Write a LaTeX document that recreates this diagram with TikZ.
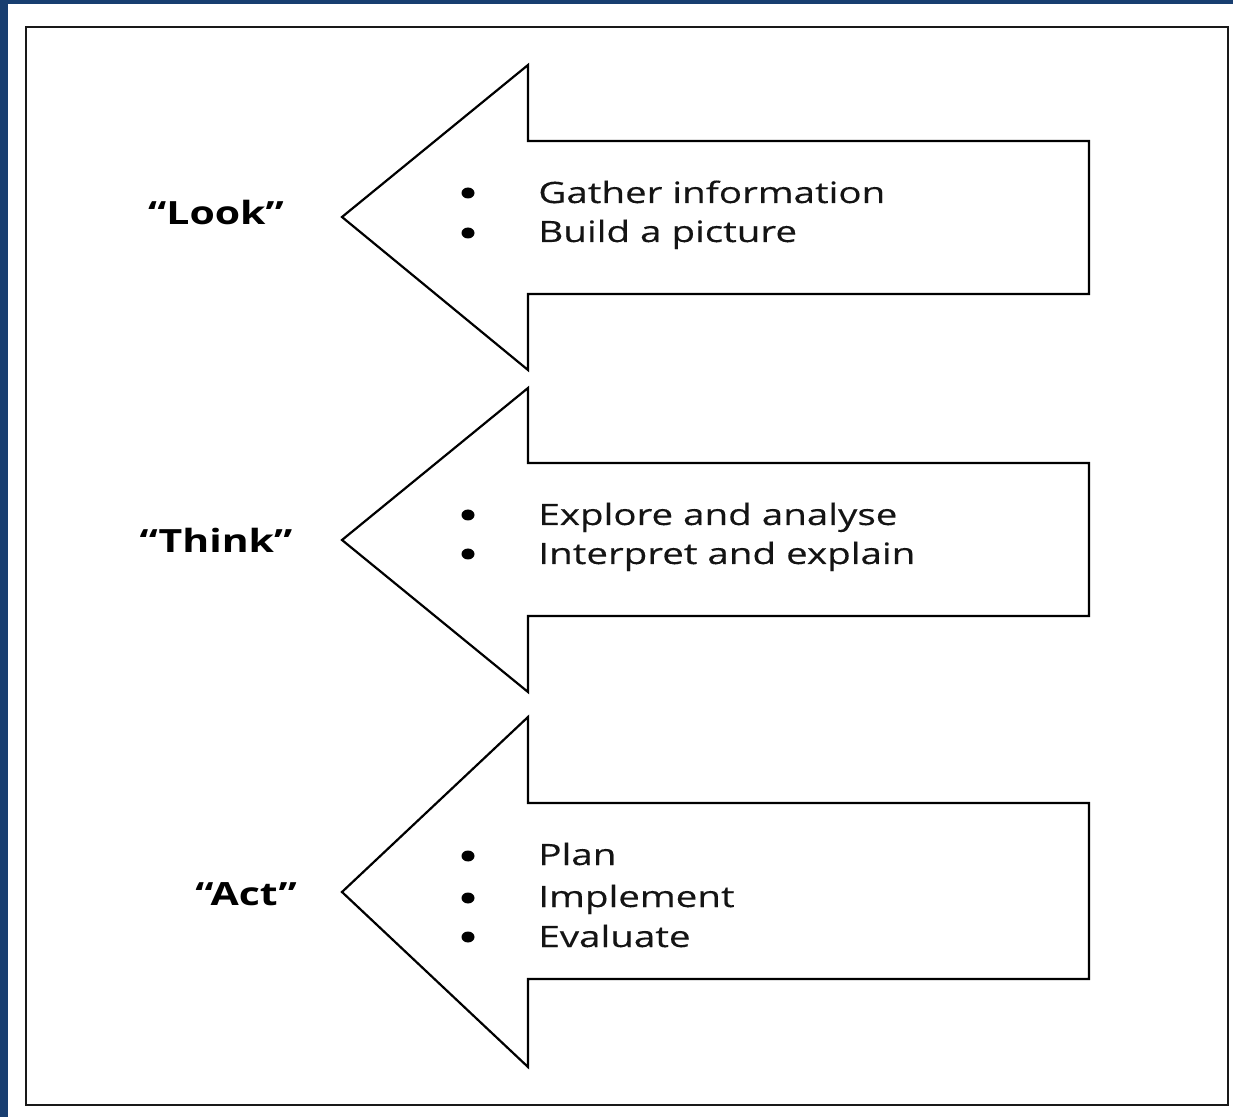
\documentclass[tikz,border=0pt]{standalone}
\usepackage{graphicx}
\usepackage{fontspec}
\setmainfont{Open Sans}
\newfontfamily\itemfont[FakeBold=0.25]{Open Sans}
\definecolor{frameblue}{RGB}{24,62,112}
\newcommand{\widetext}[1]{\scalebox{1.31}[1]{#1}}
\newcommand{\widelabel}[1]{\scalebox{1.28}[1]{#1}}
\tikzset{
  arrowshape/.style={draw=black, line width=1.1pt, fill=white, line join=miter},
  itemtext/.style={anchor=base west, inner sep=0pt, font=\fontsize{14.7}{16}\itemfont, text=black!92},
  steplabel/.style={anchor=base, inner sep=0pt, font=\fontsize{16}{18}\selectfont\bfseries},
  bulletdot/.style={fill=black, draw=none}
}
\begin{document}
\begin{tikzpicture}[x=0.5pt, y=-0.5pt]
\useasboundingbox (0,0) rectangle (1233,1117);
\fill[white] (0,0) rectangle (1233,1117);
\fill[frameblue] (0,0) rectangle (1233,4);
\fill[frameblue] (0,0) rectangle (8,1117);
\draw[line width=1.3pt, black!90] (26,27) rectangle (1228,1105);

% Look arrow
\draw[arrowshape] (342,217) -- (528,65) -- (528,141) -- (1089,141) -- (1089,294) -- (528,294) -- (528,370) -- cycle;
% Think arrow
\draw[arrowshape] (342,540) -- (528,388) -- (528,463) -- (1089,463) -- (1089,616) -- (528,616) -- (528,692) -- cycle;
% Act arrow
\draw[arrowshape] (342,892) -- (528,717) -- (528,803) -- (1089,803) -- (1089,979) -- (528,979) -- (528,1067) -- cycle;

% labels
\node[steplabel] (look) at (216,225) {\widelabel{“Look”}};
\node[steplabel] (think) at (216,553) {\widelabel{“Think”}};
\node[steplabel] (act) at (246,905) {\widelabel{“Act”}};

% Look items
\fill[bulletdot] (468,193) ellipse (6.5 and 5.5);
\fill[bulletdot] (468,233) ellipse (6.5 and 5.5);
\node[itemtext] (l1) at (538,203) {\widetext{Gather information}};
\node[itemtext] (l2) at (538,242) {\widetext{Build a picture}};

% Think items
\fill[bulletdot] (468,515) ellipse (6.5 and 5.5);
\fill[bulletdot] (468,554) ellipse (6.5 and 5.5);
\node[itemtext] (t1) at (538,525) {\widetext{Explore and analyse}};
\node[itemtext] (t2) at (538,564) {\widetext{Interpret and explain}};

% Act items
\fill[bulletdot] (468,856) ellipse (6.5 and 5.5);
\fill[bulletdot] (468,898) ellipse (6.5 and 5.5);
\fill[bulletdot] (468,937) ellipse (6.5 and 5.5);
\node[itemtext] (a1) at (538,865) {\widetext{Plan}};
\node[itemtext] (a2) at (538,907) {\widetext{Implement}};
\node[itemtext] (a3) at (538,947) {\widetext{Evaluate}};
\end{tikzpicture}
\end{document}
